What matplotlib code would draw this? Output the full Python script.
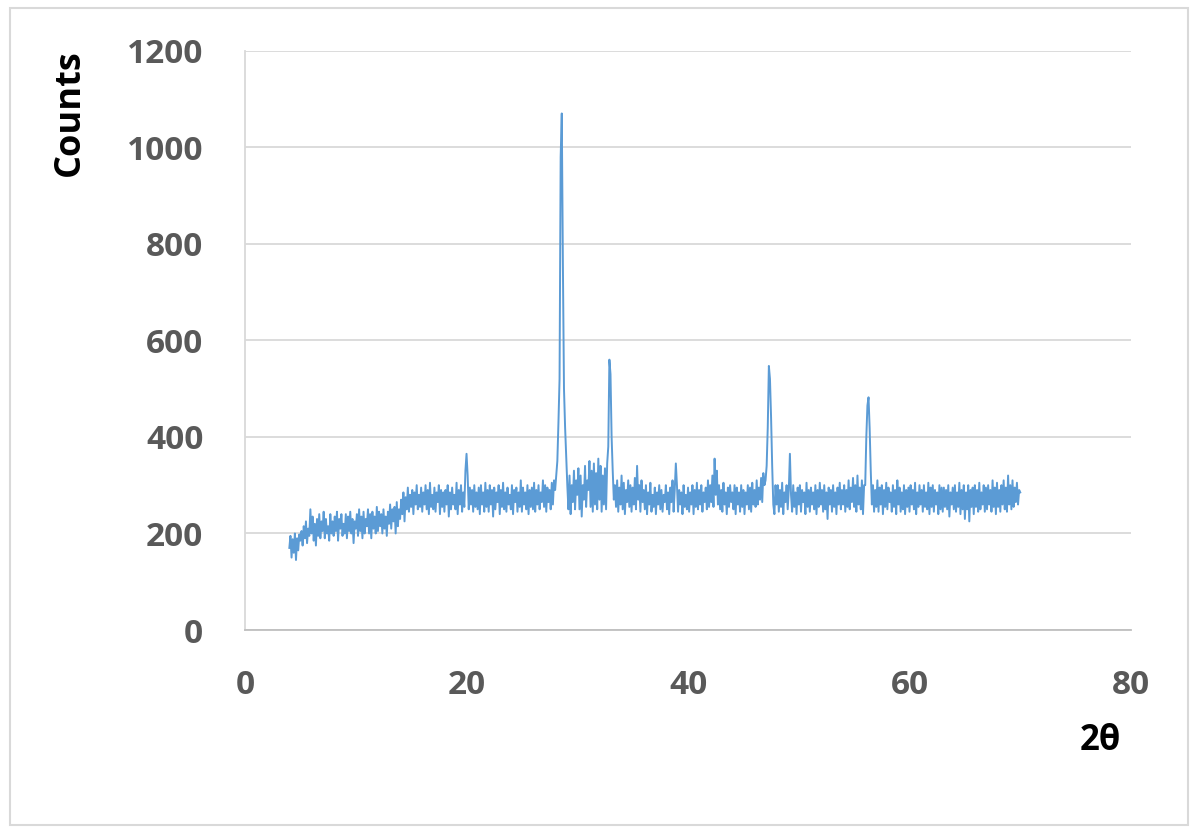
import matplotlib
matplotlib.use("Agg")
import matplotlib.pyplot as plt
import numpy as np
from matplotlib.patches import Rectangle

# 2-theta scan: start angle, step, and the counts
two_theta_start = 4.0
two_theta_step = 0.1
counts = [
    170, 195, 150, 188, 160, 200, 145, 190, 165, 198,   # 4
    185, 205, 175, 215, 190, 225, 180, 210, 195, 250,   # 5
    200, 235, 185, 220, 175, 230, 195, 240, 190, 225,   # 6
    205, 245, 190, 230, 200, 215, 185, 240, 200, 225,   # 7
    195, 235, 205, 245, 185, 230, 210, 240, 195, 220,   # 8
    200, 240, 190, 235, 205, 245, 200, 230, 180, 225,   # 9
    210, 240, 195, 250, 205, 235, 190, 245, 200, 230,   # 10
    215, 250, 200, 240, 190, 245, 210, 235, 200, 255,   # 11
    205, 245, 215, 240, 200, 250, 210, 235, 195, 245,   # 12
    220, 260, 210, 250, 225, 255, 200, 265, 215, 250,   # 13
    230, 270, 240, 285, 225, 275, 250, 295, 245, 280,   # 14
    255, 290, 240, 285, 260, 300, 250, 280, 255, 295,   # 15
    245, 285, 260, 300, 250, 290, 240, 305, 255, 280,   # 16
    250, 295, 245, 285, 265, 300, 240, 290, 255, 285,   # 17
    245, 290, 260, 300, 235, 285, 250, 295, 260, 280,   # 18
    250, 305, 240, 290, 260, 300, 245, 285, 255, 330,   # 19
    365, 320, 250, 295, 260, 290, 245, 300, 255, 285,   # 20
    250, 295, 240, 300, 260, 285, 245, 305, 255, 290,   # 21
    245, 300, 260, 290, 235, 295, 250, 285, 265, 300,   # 22
    240, 290, 255, 305, 250, 285, 245, 295, 260, 280,   # 23
    250, 300, 240, 290, 265, 295, 245, 285, 255, 310,   # 24
    245, 295, 260, 285, 250, 300, 240, 290, 255, 295,   # 25
    250, 305, 245, 290, 260, 300, 250, 285, 265, 310,   # 26
    255, 300, 245, 295, 265, 290, 250, 305, 260, 310,   # 27
    290, 320, 350, 430, 520, 980, 1070, 760, 500, 420,  # 28
    360, 300, 250, 320, 240, 300, 265, 330, 250, 310,   # 29
    280, 335, 250, 320, 235, 300, 270, 340, 255, 310,   # 30
    290, 350, 255, 330, 245, 345, 260, 325, 250, 355,   # 31
    270, 340, 245, 320, 260, 335, 250, 345, 380, 560,   # 32
    530, 400, 330, 270, 300, 255, 310, 245, 295, 260,   # 33
    320, 250, 305, 240, 290, 265, 310, 255, 300, 245,   # 34
    295, 260, 315, 250, 340, 270, 300, 245, 310, 265,   # 35
    290, 250, 300, 240, 285, 260, 305, 245, 280, 255,   # 36
    295, 240, 285, 260, 300, 250, 290, 245, 280, 265,   # 37
    300, 250, 285, 240, 295, 265, 310, 245, 290, 345,   # 38
    300, 245, 290, 260, 285, 240, 300, 255, 280, 250,   # 39
    295, 245, 285, 260, 300, 240, 290, 255, 305, 250,   # 40
    290, 260, 300, 245, 285, 265, 295, 250, 310, 255,   # 41
    300, 265, 320, 255, 355, 280, 330, 260, 300, 250,   # 42
    290, 245, 305, 260, 285, 240, 295, 255, 300, 265,   # 43
    285, 250, 300, 240, 295, 260, 285, 245, 300, 255,   # 44
    290, 240, 285, 260, 300, 250, 295, 245, 305, 260,   # 45
    290, 255, 310, 260, 295, 270, 315, 265, 325, 300,   # 46
    310, 340, 420, 547, 520, 440, 340, 260, 240, 300,   # 47
    260, 300, 245, 290, 255, 305, 240, 285, 265, 300,   # 48
    250, 290, 365, 280, 245, 300, 255, 285, 240, 295,   # 49
    260, 300, 245, 290, 265, 285, 240, 305, 255, 290,   # 50
    245, 295, 260, 285, 250, 300, 240, 290, 255, 305,   # 51
    260, 290, 245, 300, 250, 285, 230, 295, 260, 290,   # 52
    245, 300, 255, 285, 240, 295, 260, 305, 250, 290,   # 53
    260, 300, 245, 290, 255, 310, 250, 295, 265, 315,   # 54
    255, 300, 245, 320, 260, 295, 250, 310, 240, 300,   # 55
    300, 400, 465, 482, 418, 330, 260, 300, 245, 290,   # 56
    255, 310, 245, 295, 260, 300, 240, 290, 255, 305,   # 57
    250, 295, 265, 285, 245, 300, 255, 290, 240, 310,   # 58
    260, 295, 245, 285, 250, 300, 240, 290, 255, 295,   # 59
    245, 300, 260, 290, 250, 305, 240, 285, 255, 300,   # 60
    260, 290, 245, 300, 255, 285, 250, 305, 240, 295,   # 61
    255, 300, 245, 290, 260, 285, 240, 300, 250, 295,   # 62
    245, 295, 255, 290, 250, 300, 235, 285, 260, 295,   # 63
    250, 300, 245, 285, 255, 305, 240, 290, 250, 300,   # 64
    230, 285, 250, 300, 225, 290, 255, 295, 240, 300,   # 65
    255, 290, 245, 305, 250, 285, 260, 300, 245, 295,   # 66
    250, 300, 260, 290, 245, 310, 255, 295, 240, 305,   # 67
    255, 290, 245, 300, 260, 310, 250, 295, 245, 320,   # 68
    260, 300, 250, 310, 255, 295, 265, 305, 260, 290,   # 69
    285,                                                # 70
]
x_ticks = [0, 20, 40, 60, 80]
y_ticks = [0, 200, 400, 600, 800, 1000, 1200]

two_theta = two_theta_start + two_theta_step * np.arange(len(counts))

plt.rcParams['font.family'] = ['Open Sans', 'DejaVu Sans']

fig = plt.figure(figsize=(12, 8.35), dpi=100)
ax = fig.add_axes([0.2042, 0.2455, 0.7383, 0.6938])

ax.plot(two_theta, counts, color='#5B9BD5', lw=1.4)

ax.set_xlim(0, 80)
ax.set_ylim(0, 1200)
ax.set_xticks(x_ticks)
ax.set_yticks(y_ticks)
ax.grid(axis='y', color='#d9d9d9', lw=1.3)
ax.set_axisbelow(True)

for s in ['top', 'right']:
    ax.spines[s].set_visible(False)
ax.spines['left'].set_color('#d9d9d9')
ax.spines['left'].set_linewidth(1.3)
ax.spines['bottom'].set_color('#bfbfbf')
ax.spines['bottom'].set_linewidth(1.3)

ax.tick_params(length=0, labelsize=24, labelcolor='#595959')
ax.tick_params(axis='y', pad=30)
ax.tick_params(axis='x', pad=28)
for lab in ax.get_xticklabels() + ax.get_yticklabels():
    lab.set_fontweight('bold')

fig.text(0.058, 0.865, 'Counts', rotation=90, fontsize=26, fontweight='bold',
         ha='center', va='center', color='black')
fig.text(0.917, 0.113, '2θ', fontsize=25, fontweight='bold',
         ha='center', va='center', color='black')

# light frame around the whole chart
fig.patches.append(Rectangle((0.008, 0.012), 0.982, 0.979, transform=fig.transFigure,
                             fill=False, edgecolor='#d9d9d9', lw=1.5))

fig.savefig('out.png', dpi=100, facecolor='white')
